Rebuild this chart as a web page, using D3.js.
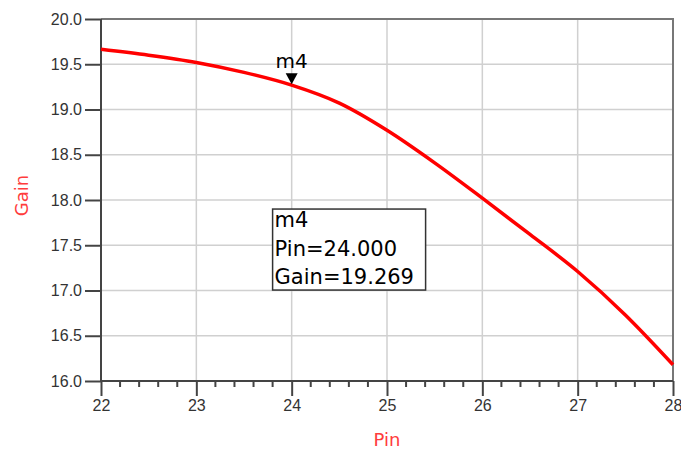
<!doctype html>
<meta charset="utf-8">
<title>Gain vs Pin</title>
<style>
body { margin: 0; background: #fff; }
svg { font-family: "DejaVu Sans", "Liberation Sans", Arial, sans-serif; }
.grid line { stroke: #d0d0d0; stroke-width: 1.5; }
.axis text { fill: #333; font-size: 16px; }
.axis path, .axis line { stroke: #444; stroke-width: 2; }
.title { fill: #ff3c3c; font-size: 18px; }
</style>
<script src="https://d3js.org/d3.v7.min.js"></script>
<body>
<script>
var width = 681, height = 452;
var margin = {top: 19, right: 8, bottom: 71, left: 101};

// data
var pin  = [22, 22.5, 23, 23.5, 24, 24.5, 25, 25.5, 26, 26.5, 27, 27.5, 28];
var gain = [19.665, 19.60, 19.52, 19.41, 19.269, 19.07, 18.77, 18.41, 18.02, 17.62, 17.21, 16.73, 16.18];
var xTicks = [22, 23, 24, 25, 26, 27, 28];
var yTicks = [16.0, 16.5, 17.0, 17.5, 18.0, 18.5, 19.0, 19.5, 20.0];
var marker = {name: "m4", pin: 24, gain: 19.269};

var svg = d3.select("body").append("svg")
    .attr("width", width)
    .attr("height", height);

var x = d3.scaleLinear().domain([22, 28]).range([margin.left, width - margin.right]);
var y = d3.scaleLinear().domain([16, 20]).range([height - margin.bottom, margin.top]);

// grid
var grid = svg.append("g").attr("class", "grid");
grid.selectAll("line.v").data(xTicks.slice(1, -1)).enter().append("line")
    .attr("x1", d => x(d)).attr("x2", d => x(d))
    .attr("y1", y(20)).attr("y2", y(16));
grid.selectAll("line.h").data(yTicks.slice(1, -1)).enter().append("line")
    .attr("x1", x(22)).attr("x2", x(28))
    .attr("y1", d => y(d)).attr("y2", d => y(d));

// top / right frame
svg.append("path")
    .attr("d", "M" + x(22) + "," + y(20) + "H" + x(28) + "V" + y(16))
    .attr("fill", "none").attr("stroke", "#777").attr("stroke-width", 2);

// minor ticks on x
var minor = d3.range(22, 28.001, 0.2).filter(d => Math.abs(d - Math.round(d)) > 0.01);
svg.append("g")
    .selectAll("line").data(minor).enter().append("line")
    .attr("x1", d => x(d)).attr("x2", d => x(d))
    .attr("y1", y(16)).attr("y2", y(16) + 6)
    .attr("stroke", "#444").attr("stroke-width", 2);

var xAxis = svg.append("g").attr("class", "axis")
    .attr("transform", "translate(0," + y(16) + ")")
    .call(d3.axisBottom(x).tickValues(xTicks).tickSize(15).tickPadding(4).tickFormat(d3.format("d")));
xAxis.select(".domain").attr("d", "M" + x(22) + ",0H" + x(28));

var yAxis = svg.append("g").attr("class", "axis")
    .attr("transform", "translate(" + x(22) + ",0)")
    .call(d3.axisLeft(y).tickValues(yTicks).tickSize(16).tickPadding(3).tickFormat(d3.format(".1f")));
yAxis.select(".domain").attr("d", "M0," + y(20) + "V" + y(16));

// curve
var line = d3.line()
    .x((d, i) => x(pin[i]))
    .y(d => y(d))
    .curve(d3.curveMonotoneX);
svg.append("path")
    .datum(gain)
    .attr("d", line)
    .attr("fill", "none")
    .attr("stroke", "#ff0000")
    .attr("stroke-width", 3.5);

// marker
var mx = x(marker.pin), my = y(marker.gain);
svg.append("path")
    .attr("d", "M" + (mx - 6) + "," + (my - 12) + "H" + (mx + 6) + "L" + mx + "," + (my - 1) + "Z")
    .attr("fill", "#000");
svg.append("text")
    .attr("x", mx).attr("y", my - 17)
    .attr("text-anchor", "middle")
    .style("font-size", "20px")
    .text(marker.name);

// marker readout box
var box = svg.append("g").attr("transform", "translate(" + x(23.8) + "," + y(17.9) + ")");
box.append("rect")
    .attr("width", 153).attr("height", 81)
    .attr("fill", "#fff").attr("stroke", "#333").attr("stroke-width", 1.5);
var lines = [marker.name, "Pin=" + marker.pin.toFixed(3), "Gain=" + marker.gain.toFixed(3)];
box.selectAll("text").data(lines).enter().append("text")
    .attr("x", 2).attr("y", (d, i) => 18 + i * 28.5)
    .style("font-size", "21px")
    .text(d => d);

// axis titles
svg.append("text").attr("class", "title")
    .attr("x", x(25)).attr("y", 446)
    .attr("text-anchor", "middle")
    .text("Pin");
svg.append("text").attr("class", "title")
    .attr("transform", "translate(28," + y(18.05) + ") rotate(-90)")
    .attr("text-anchor", "middle")
    .text("Gain");
</script>
